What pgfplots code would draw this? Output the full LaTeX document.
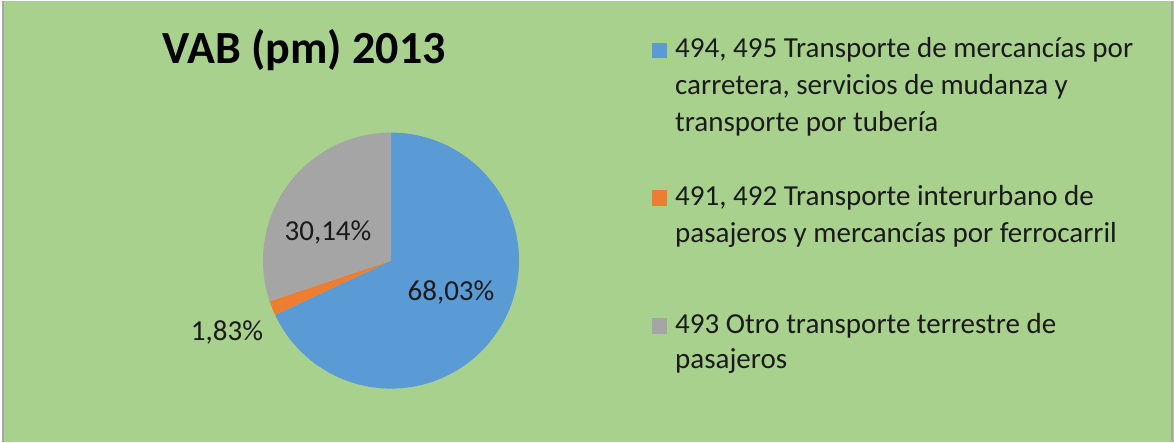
\documentclass[border=0pt]{standalone}
\usepackage{pgfplots}
\pgfplotsset{compat=1.18}
\usepackage{pgfplotstable}
\usepackage{fontspec}
\setmainfont{Carlito}
\definecolor{bg}{HTML}{A9D18E}
\definecolor{cblue}{HTML}{5B9BD5}
\definecolor{corange}{HTML}{ED7D31}
\definecolor{cgray}{HTML}{A5A5A5}
\definecolor{txt}{HTML}{1A1A1A}
\pgfplotstableread{
share
68.03
1.83
30.14
}\piedata
\begin{document}
\begin{tikzpicture}
\pgfplotstablegetelem{0}{share}\of\piedata \let\sA\pgfplotsretval
\pgfplotstablegetelem{1}{share}\of\piedata \let\sB\pgfplotsretval
\pgfplotstablegetelem{2}{share}\of\piedata \let\sC\pgfplotsretval
\pgfmathsetmacro{\eA}{90-3.6*\sA}
\pgfmathsetmacro{\eB}{\eA-3.6*\sB}
\pgfmathsetmacro{\eC}{\eB-3.6*\sC}
\begin{axis}[width=1174pt,height=441pt,scale only axis,
  xmin=0,xmax=1174,ymin=0,ymax=441,hide axis,clip=false]
\fill[bg] (axis cs:0,0) rectangle (axis cs:1174,441);
\fill[white] (axis cs:0,0) rectangle (axis cs:2,441);
\draw[black!35,line width=1.2pt] (axis cs:3,0) -- (axis cs:3,441);
\draw[black!35,line width=1.2pt] (axis cs:1172,0) -- (axis cs:1172,441);
% pie
\fill[cblue] (axis cs:391,181) -- ++(90:128pt) arc[start angle=90,end angle=\eA,radius=128pt] -- cycle;
\fill[corange] (axis cs:391,181) -- ++(\eA:128pt) arc[start angle=\eA,end angle=\eB,radius=128pt] -- cycle;
\fill[cgray] (axis cs:391,181) -- ++(\eB:128pt) arc[start angle=\eB,end angle=\eC,radius=128pt] -- cycle;
% data labels
\node[txt,font=\fontsize{29}{32}\selectfont] at (axis cs:451,149) {68,03\%};
\node[txt,font=\fontsize{29}{32}\selectfont] at (axis cs:328,209) {30,14\%};
\node[txt,font=\fontsize{29}{32}\selectfont] at (axis cs:227,109) {1,83\%};
% title
\node[black,font=\fontsize{46}{50}\selectfont\bfseries] at (axis cs:304,392) {VAB (pm) 2013};
% legend
\fill[cblue] (axis cs:652,384) rectangle (axis cs:667,399);
\fill[corange] (axis cs:652,236) rectangle (axis cs:667,252);
\fill[cgray] (axis cs:652,108) rectangle (axis cs:667,124);
\begin{scope}[every node/.style={anchor=base west,txt,font=\fontsize{29}{32}\selectfont,inner sep=0pt}]
\node at (axis cs:675,384) {494, 495 Transporte de mercancías por};
\node at (axis cs:675,347) {carretera, servicios de mudanza y};
\node at (axis cs:675,310) {transporte por tubería};
\node at (axis cs:675,236) {491, 492 Transporte interurbano de};
\node at (axis cs:675,199) {pasajeros y mercancías por ferrocarril};
\node at (axis cs:675,108) {493 Otro transporte terrestre de};
\node at (axis cs:675,73) {pasajeros};
\end{scope}
\end{axis}
\end{tikzpicture}
\end{document}
